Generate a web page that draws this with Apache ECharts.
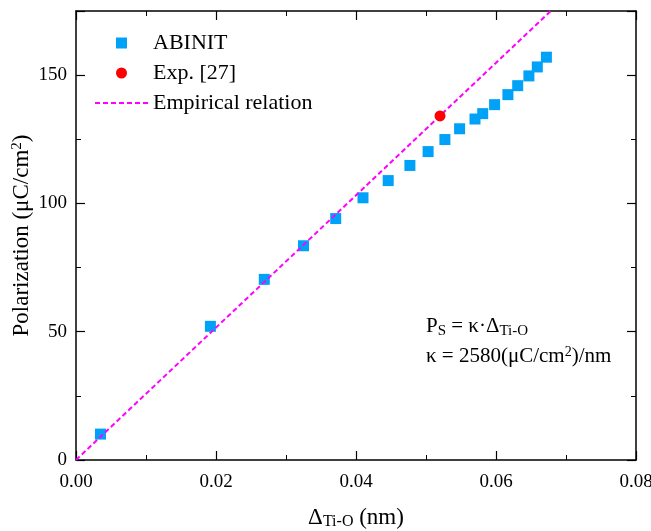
<!DOCTYPE html>
<html lang="en">
<head>
    <meta charset="UTF-8">
    <title>Polarization vs Ti-O displacement</title>
    <script src="https://cdn.jsdelivr.net/npm/echarts@6/dist/echarts.min.js"></script>
    <style>
        body { margin: 0; background: #fff; }
    </style>
</head>
<body>
<div id="main" style="width: 651px;height:531px;"></div>
<script type="text/javascript">
    // ABINIT points: displacement (nm) and polarization (uC/cm2)
    var abinitX = [0.0035, 0.0192, 0.0269, 0.0325, 0.0371, 0.0410, 0.0446, 0.0477, 0.0503, 0.0527,
        0.0548, 0.0570, 0.0581, 0.0598, 0.0617, 0.0631, 0.0647, 0.0659, 0.0672];
    var abinitY = [10.1, 52.1, 70.4, 83.5, 94.1, 102.2, 108.9, 114.8, 120.2, 124.9,
        129.1, 132.9, 135.0, 138.5, 142.4, 145.9, 149.7, 153.2, 157.0];
    var expX = [0.0520];
    var expY = [134.1];
    // empirical relation P = 2580 * d, two end points
    var empX = [0, 0.08];
    var empY = [0, 206.4];

    var fontName = '"Liberation Serif", "Times New Roman", serif';

    function pairs(xs, ys) {
        var out = [];
        for (let i = 0; i < xs.length; i++) {
            out.push([xs[i], ys[i]]);
        }
        return out;
    }

    var myChart = echarts.init(document.getElementById('main'));

    function frameAxis(extra) {
        var base = {
            type: 'value',
            axisLine: { show: true, onZero: false, lineStyle: { color: '#000', width: 1.5 } },
            axisTick: { show: true, inside: true, length: 9, lineStyle: { color: '#000', width: 1.2 } },
            minorTick: { show: true, splitNumber: 2, length: 5, lineStyle: { color: '#000', width: 1 } },
            splitLine: { show: false },
            axisLabel: { show: false }
        };
        return Object.assign(base, extra);
    }

    // legend icons: a small square and a dashed line
    var squareIcon = 'path://M0,0h10v10h-10z';
    var dashIcon = 'path://M0,0h5v2h-5z M8,0h5v2h-5z M16,0h5v2h-5z M24,0h5v2h-5z M32,0h5v2h-5z M40,0h5v2h-5z M48,0h5v2h-5z';

    var option = {
        animation: false,
        textStyle: { fontFamily: fontName },
        grid: { left: 76, right: 15, top: 11, bottom: 71, outerBoundsMode: 'none', containLabel: false },
        legend: {
            orient: 'vertical',
            left: 90,
            top: 27,
            itemWidth: 53,
            itemHeight: 11,
            itemGap: 8,
            symbolKeepAspect: true,
            textStyle: { fontFamily: fontName, fontSize: 22, color: '#000' },
            data: [
                { name: 'ABINIT', icon: squareIcon },
                { name: 'Exp. [27]', icon: 'circle' },
                { name: 'Empirical relation', icon: dashIcon }
            ]
        },
        xAxis: [
            frameAxis({
                min: 0, max: 0.08, interval: 0.02,
                position: 'bottom',
                name: '{d|Δ}{s|Ti-O}{d| (nm)}',
                nameLocation: 'middle',
                nameGap: 45,
                nameTextStyle: {
                    rich: {
                        d: { fontFamily: fontName, fontSize: 23, color: '#000' },
                        s: { fontFamily: fontName, fontSize: 16, color: '#000', verticalAlign: 'bottom', padding: [9, 0, 0, 0] }
                    }
                },
                axisLabel: {
                    show: true, margin: 13, color: '#000', fontSize: 19, fontFamily: fontName,
                    formatter: function (v) { return v.toFixed(2); }
                }
            }),
            frameAxis({
                min: 0, max: 0.08, interval: 0.02,
                position: 'top'
            })
        ],
        yAxis: [
            frameAxis({
                min: 0, max: 175, interval: 50,
                position: 'left',
                name: '{d|Polarization (μC/cm}{u|2}{d|)}',
                nameLocation: 'middle',
                nameGap: 42,
                nameMoveOverlap: false,
                nameRotate: 90,
                nameTextStyle: {
                    rich: {
                        d: { fontFamily: fontName, fontSize: 23, color: '#000' },
                        u: { fontFamily: fontName, fontSize: 15, color: '#000', verticalAlign: 'top', padding: [0, 0, 9, 0] }
                    }
                },
                axisLabel: { show: true, showMaxLabel: false, margin: 9, color: '#000', fontSize: 19, fontFamily: fontName }
            }),
            frameAxis({
                min: 0, max: 175, interval: 50,
                position: 'right'
            })
        ],
        graphic: [
            {
                type: 'text',
                left: 426,
                top: 316,
                style: {
                    text: '{d|P}{s|S}{d| = κ·Δ}{s|Ti-O}',
                    rich: {
                        d: { fontFamily: fontName, fontSize: 21, fill: '#000' },
                        s: { fontFamily: fontName, fontSize: 15, fill: '#000', verticalAlign: 'bottom', padding: [9, 0, 0, 0] }
                    }
                }
            },
            {
                type: 'text',
                left: 426,
                top: 345,
                style: {
                    text: '{d|κ = 2580(μC/cm}{u|2}{d|)/nm}',
                    rich: {
                        d: { fontFamily: fontName, fontSize: 21, fill: '#000' },
                        u: { fontFamily: fontName, fontSize: 14, fill: '#000', verticalAlign: 'top', padding: [0, 0, 9, 0] }
                    }
                }
            }
        ],
        series: [
            {
                name: 'Empirical relation',
                type: 'line',
                data: pairs(empX, empY),
                symbol: 'none',
                clip: true,
                lineStyle: { color: '#ff00ff', width: 2, type: [5, 3] },
                itemStyle: { color: '#ff00ff' },
                z: 3
            },
            {
                name: 'ABINIT',
                type: 'scatter',
                data: pairs(abinitX, abinitY),
                symbol: 'rect',
                symbolSize: 11,
                itemStyle: { color: '#00a2f7', opacity: 1 },
                z: 2
            },
            {
                name: 'Exp. [27]',
                type: 'scatter',
                data: pairs(expX, expY),
                symbol: 'circle',
                symbolSize: 11,
                itemStyle: { color: '#ff0000', opacity: 1 },
                z: 4
            }
        ]
    };
    myChart.setOption(option);
</script>
</body>
</html>
